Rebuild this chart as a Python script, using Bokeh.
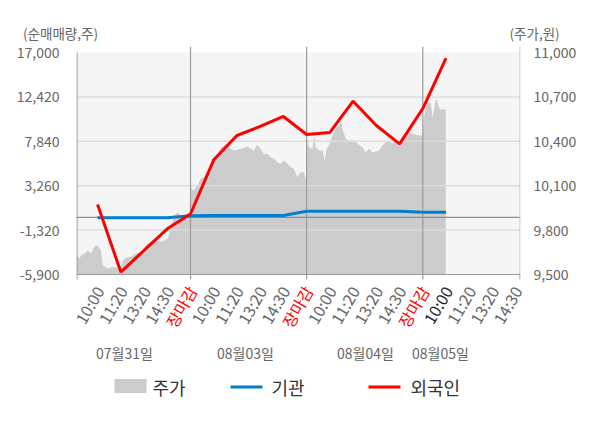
import math
from bokeh.plotting import figure
from bokeh.models import Range1d, LinearAxis, FixedTicker, NumeralTickFormatter
from bokeh.layouts import column
from bokeh.core.properties import value
from bokeh.embed import file_html
from bokeh.resources import INLINE

FONT = "Noto Sans CJK KR"

# ---------------- data ----------------
tick_labels = ["10:00", "11:20", "13:20", "14:30", "장마감",
               "10:00", "11:20", "13:20", "14:30", "장마감",
               "10:00", "11:20", "13:20", "14:30", "장마감",
               "10:00", "11:20", "13:20", "14:30"]
day_labels = ["07월31일", "08월03일", "08월04일", "08월05일"]

left_ticks = [-5900, -1320, 3260, 7840, 12420, 17000]
right_ticks = [9500, 9800, 10100, 10400, 10700, 11000]

# 외국인 / 기관 net trading at each time slot (slot 1..16)
foreign = [1320, -5650, -3420, -1190, 340, 5930, 8440, 9370, 10400, 8540,
           8750, 11980, 9470, 7580, 11220, 16410]
institution = [-50, -50, -50, -40, 150, 190, 190, 190, 190, 620,
               630, 630, 630, 630, 530, 520]

# intraday price (slot position, price)
price_t = [0.09, 0.22, 0.29, 0.43, 0.57, 0.72, 0.86, 1.00, 1.15, 1.22, 1.37, 1.44,
           1.65, 1.87, 2.01, 2.16, 2.30, 2.44, 2.66, 2.88, 3.02, 3.16, 3.38, 3.52,
           3.66, 3.81, 4.02, 4.17, 4.31, 4.45, 4.60, 4.74, 4.88, 4.99,
           5.03, 5.10, 5.25, 5.34, 5.43, 5.57, 5.72, 5.86, 6.00, 6.15, 6.29, 6.44,
           6.58, 6.72, 6.87, 7.01, 7.16, 7.30, 7.44, 7.59, 7.73, 7.87, 8.02, 8.16,
           8.31, 8.45, 8.59, 8.74, 8.88, 9.03, 9.17, 9.31, 9.45, 9.60, 9.74, 9.88, 9.97,
           10.03, 10.10, 10.25, 10.32, 10.39, 10.53, 10.68, 10.78, 10.86, 10.96, 11.11,
           11.25, 11.39, 11.47, 11.54, 11.68, 11.82, 11.97, 12.11, 12.25, 12.40, 12.54,
           12.69, 12.83, 12.97, 13.12, 13.26, 13.41, 13.55, 13.69, 13.84, 13.98, 14.13,
           14.27, 14.41, 14.56, 14.70, 14.84, 14.99,
           15.06, 15.13, 15.20, 15.27, 15.34, 15.42, 15.49, 15.56, 15.63, 15.70, 15.78,
           15.85, 15.92, 15.99]
price = [9642, 9608, 9628, 9642, 9662, 9642, 9689, 9696, 9662, 9561, 9549, 9541,
         9549, 9549, 9561, 9608, 9615, 9622, 9642, 9651, 9684, 9709, 9730, 9725,
         9723, 9723, 9743, 9820, 9899, 9921, 9887, 9899, 9910, 9910,
         10090, 10068, 10090, 10110, 10147, 10157, 10180, 10236, 10275, 10304, 10349, 10372,
         10387, 10349, 10338, 10343, 10349, 10356, 10365, 10349, 10338, 10376, 10349, 10311,
         10316, 10293, 10282, 10259, 10248, 10270, 10248, 10225, 10214, 10157, 10191, 10191, 10135,
         10417, 10360, 10349, 10439, 10360, 10338, 10338, 10270, 10349, 10372, 10439,
         10484, 10507, 10541, 10484, 10417, 10405, 10405, 10394, 10376, 10360, 10326,
         10349, 10326, 10331, 10338, 10372, 10394, 10405, 10383, 10417, 10383, 10417,
         10461, 10461, 10451, 10444, 10439, 10439,
         10574, 10620, 10676, 10653, 10664, 10563, 10620, 10687, 10664, 10630, 10608,
         10620, 10615, 10615]

# ---------------- layout geometry (page px) ----------------
W = 600
TOP_H = 42            # strip for axis titles
FR_T = 46             # top of main frame
FR_L, FR_R = 76, 520  # frame left / right
Y_TOP_TICK, Y_BOT_TICK = 52, 274
MAIN_BOT = 283        # bottom of main frame
LAB_BOT = 365
LEG_BOT = 425
SLOT_PX = 23.23
SLOT0_X = 73.85


def slot_of(X):
    return (X - SLOT0_X) / SLOT_PX


x_start, x_end = slot_of(FR_L), slot_of(FR_R)
L_MIN, L_MAX = left_ticks[0], left_ticks[-1]
R_MIN, R_MAX = right_ticks[0], right_ticks[-1]
l_px = (L_MAX - L_MIN) / (Y_BOT_TICK - Y_TOP_TICK)
r_px = (R_MAX - R_MIN) / (Y_BOT_TICK - Y_TOP_TICK)
l_top = L_MAX + (Y_TOP_TICK - FR_T) * l_px
l_bot = L_MIN - (MAIN_BOT - Y_BOT_TICK) * l_px
r_top = R_MAX + (Y_TOP_TICK - FR_T) * r_px
r_bot = R_MIN - (MAIN_BOT - Y_BOT_TICK) * r_px


def strip(h, y0, x_range):
    f = figure(width=W, height=h, output_backend="svg", toolbar_location=None,
               x_range=x_range, y_range=Range1d(y0 + h, y0),
               x_axis_type=None, y_axis_type=None, min_border=0, frame_align=False)
    f.outline_line_color = None
    f.grid.visible = False
    return f


# ---------------- title strip ----------------
top = strip(TOP_H, 0, Range1d(0, W))
top.text(x=[22.5, 509], y=[32, 32], text=["(순매매량,주)", "(주가,원)"],
         text_font=value(FONT), text_font_size=value("13.5px"), text_color="#666666",
         text_align="left", text_baseline="middle")

# ---------------- main plot ----------------
p = figure(width=W, height=MAIN_BOT - TOP_H, output_backend="svg", toolbar_location=None,
           x_range=Range1d(x_start, x_end), y_range=Range1d(l_bot, l_top),
           x_axis_type=None, frame_align=False,
           min_border_left=FR_L, min_border_right=W - FR_R,
           min_border_top=FR_T - TOP_H, min_border_bottom=0)
p.extra_y_ranges = {"price": Range1d(r_bot, r_top)}
p.outline_line_color = None
p.background_fill_color = "white"
p.border_fill_color = "white"
p.grid.visible = False

p.quad(left=x_start, right=x_end, bottom=L_MIN, top=L_MAX, fill_color="#f5f5f5",
       line_color=None)
p.varea(x=price_t, y1=[R_MIN] * len(price_t), y2=price, y_range_name="price",
        fill_color="#cccccc")

mid = left_ticks[1:-1]
p.segment(x0=[x_start] * len(mid), x1=[x_end] * len(mid), y0=mid, y1=mid,
          line_color="#dcdcdc", line_width=1.5)
p.segment(x0=[x_start], x1=[x_end], y0=[0], y1=[0], line_color="#8c8c8c", line_width=1.2)
seps = [5, 10, 15]
p.segment(x0=seps, x1=seps, y0=[L_MIN] * 3, y1=[l_top] * 3, line_color="#9a9a9a",
          line_width=1.2)
half = 0.5 / SLOT_PX
# left / right / bottom axis lines and bottom ticks
p.segment(x0=[x_start + half], x1=[x_start + half], y0=[L_MIN], y1=[L_MAX],
          line_color="#9a9a9a", line_width=1.2)
p.segment(x0=[x_end - half], x1=[x_end - half], y0=[L_MIN], y1=[l_top],
          line_color="#cccccc", line_width=1.2)
p.segment(x0=[x_start], x1=[x_end], y0=[L_MIN], y1=[L_MIN], line_color="#9a9a9a",
          line_width=1.2)
bt = [x_start + half, 5, 10, 15, x_end - half]
p.segment(x0=bt, x1=bt, y0=[L_MIN] * 5, y1=[L_MIN - 5 * l_px] * 5, line_color="#9a9a9a",
          line_width=1.2)

slots = list(range(1, len(foreign) + 1))
p.line(slots, institution, line_color="#0080cc", line_width=3)
p.line(slots, foreign, line_color="#ff0000", line_width=3)

ya = p.yaxis[0]
ya.ticker = FixedTicker(ticks=left_ticks)
ya.formatter = NumeralTickFormatter(format="0,0")
ya.axis_line_color = None
ya.major_tick_line_color = None
ya.minor_tick_line_color = None
ya.major_label_standoff = 11
ya.major_label_text_font = FONT
ya.major_label_text_font_size = "14px"
ya.major_label_text_color = "#666666"

ra = LinearAxis(y_range_name="price", ticker=FixedTicker(ticks=right_ticks),
                formatter=NumeralTickFormatter(format="0,0"))
ra.axis_line_color = None
ra.major_tick_line_color = None
ra.minor_tick_line_color = None
ra.major_label_standoff = 7
ra.major_label_text_font = FONT
ra.major_label_text_font_size = "14px"
ra.major_label_text_color = "#666666"
p.add_layout(ra, "right")

# ---------------- x labels strip ----------------
lab = strip(LAB_BOT - MAIN_BOT, MAIN_BOT, Range1d(slot_of(0), slot_of(W)))
tick_colors = []
for i, t in enumerate(tick_labels):
    if t == "장마감":
        tick_colors.append("#ff0000")
    elif i == 15:
        tick_colors.append("#222222")
    else:
        tick_colors.append("#666666")
tick_pos = [i + 1 for i in range(len(tick_labels))]
lab.text(x=[v + 1.5 / SLOT_PX for v in tick_pos], y=[287] * len(tick_pos),
         text=tick_labels, angle=math.pi / 3, text_align="right", text_baseline="middle",
         text_font=value(FONT), text_font_size=value("16px"), text_color=tick_colors)
day_centers_px = [124, 245, 365, 440]
lab.text(x=[slot_of(v) for v in day_centers_px], y=[352] * 4, text=day_labels,
         text_align="center", text_baseline="middle", text_font=value(FONT),
         text_font_size=value("14px"), text_color="#666666")

# ---------------- legend strip ----------------
leg = strip(LEG_BOT - LAB_BOT, LAB_BOT, Range1d(0, W))
leg.quad(left=[114], right=[146], top=[378.5], bottom=[392.5], fill_color="#cccccc",
         line_color=None)
leg.segment(x0=[230], x1=[262], y0=[386.5], y1=[386.5], line_color="#0080cc", line_width=3)
leg.segment(x0=[368], x1=[400], y0=[386.5], y1=[386.5], line_color="#ff0000", line_width=3)
leg.text(x=[152, 271, 410], y=[386, 386, 386], text=["주가", "기관", "외국인"],
         text_font=value(FONT), text_font_size=value("18px"), text_color="#333333",
         text_align="left", text_baseline="middle")

layout = column(top, p, lab, leg, spacing=0)
open("out.html", "w").write(file_html(layout, INLINE))
